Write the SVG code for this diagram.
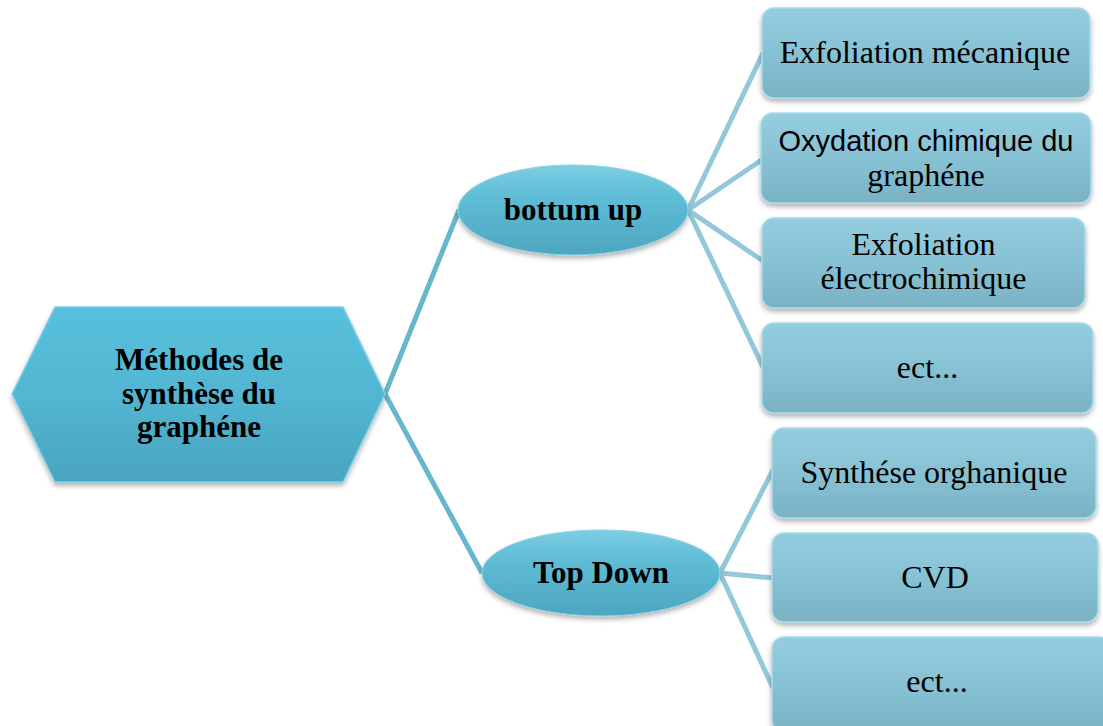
<svg xmlns="http://www.w3.org/2000/svg" width="1103" height="726" viewBox="0 0 1103 726">
<defs>
<linearGradient id="gHex" x1="0" y1="0" x2="0" y2="1">
<stop offset="0" stop-color="#58c0dc"/>
<stop offset="0.5" stop-color="#52b6d2"/>
<stop offset="1" stop-color="#4aa4bf"/>
</linearGradient>
<linearGradient id="gEll" x1="0" y1="0" x2="0" y2="1">
<stop offset="0" stop-color="#7ccde2"/>
<stop offset="0.35" stop-color="#5fbdd6"/>
<stop offset="1" stop-color="#4ea5bf"/>
</linearGradient>
<linearGradient id="gBox" x1="0" y1="0" x2="0" y2="1">
<stop offset="0" stop-color="#94cddf"/>
<stop offset="0.5" stop-color="#87c2d4"/>
<stop offset="1" stop-color="#7ab2c4"/>
</linearGradient>
<filter id="sh" x="-10%" y="-10%" width="120%" height="130%">
<feDropShadow dx="0" dy="3" stdDeviation="2.5" flood-color="#000" flood-opacity="0.3"/>
</filter>
</defs>
<style>
.box{fill:url(#gBox);stroke:#a9dbe9;stroke-width:1.5;filter:url(#sh)}
.ell{fill:url(#gEll);stroke:#8ed3e6;stroke-width:1;filter:url(#sh)}
.hex{fill:url(#gHex);stroke:#7fd0e6;stroke-width:1.5;filter:url(#sh)}
.t{font-family:"Liberation Serif","Times New Roman",serif;font-size:32px;fill:#000;text-anchor:middle}
.ts{font-family:"Liberation Sans",Arial,sans-serif;font-size:29px;fill:#000;text-anchor:middle}
.b{font-weight:bold;font-size:31px}
.c1{stroke:#66b6cd;stroke-width:5;fill:none}
.c2{stroke:#92c8d9;stroke-width:5;fill:none}
</style>
<rect width="1103" height="726" fill="#fff"/>
<g id="connectors">
<line class="c1" x1="385" y1="394" x2="459" y2="210"/>
<line class="c1" x1="385" y1="394" x2="482" y2="573"/>
<line class="c2" x1="688" y1="210" x2="763" y2="53"/>
<line class="c2" x1="688" y1="210" x2="763" y2="159"/>
<line class="c2" x1="688" y1="210" x2="763" y2="261"/>
<line class="c2" x1="688" y1="210" x2="763" y2="367"/>
<line class="c2" x1="720" y1="573" x2="773" y2="470"/>
<line class="c2" x1="720" y1="573" x2="773" y2="578"/>
<line class="c2" x1="720" y1="573" x2="773" y2="688"/>
</g>
<g id="root">
<polygon class="hex" points="12,394 55,307 343,307 385,394 343,482 55,482"/>
<text class="t b" x="199" y="370">Méthodes de</text>
<text class="t b" x="199" y="404">synthèse du</text>
<text class="t b" x="199" y="437">graphéne</text>
</g>
<g id="bottomup">
<ellipse class="ell" cx="573" cy="210" rx="115" ry="45"/>
<text class="t b" x="573" y="220">bottum up</text>
</g>
<g id="topdown">
<ellipse class="ell" cx="601" cy="573" rx="119" ry="43"/>
<text class="t b" x="601" y="583">Top Down</text>
</g>
<g id="b1">
<rect class="box" x="762" y="8" width="328" height="90" rx="12"/>
<text class="t" x="925" y="63">Exfoliation mécanique</text>
</g>
<g id="b2">
<rect class="box" x="761" y="113" width="330" height="90" rx="12"/>
<text class="ts" x="926" y="151">Oxydation chimique du</text>
<text class="t" x="926" y="186">graphéne</text>
</g>
<g id="b3">
<rect class="box" x="762" y="218" width="323" height="90" rx="12"/>
<text class="t" x="923.5" y="255">Exfoliation</text>
<text class="t" x="923.5" y="289">électrochimique</text>
</g>
<g id="b4">
<rect class="box" x="762" y="323" width="331" height="90" rx="12"/>
<text class="t" x="927.5" y="378">ect...</text>
</g>
<g id="b5">
<rect class="box" x="772" y="428" width="324" height="90" rx="12"/>
<text class="t" x="934" y="483">Synthése orghanique</text>
</g>
<g id="b6">
<rect class="box" x="772" y="533" width="326" height="89" rx="12"/>
<text class="t" x="935" y="588">CVD</text>
</g>
<g id="b7">
<rect class="box" x="772" y="637" width="340" height="95" rx="12"/>
<text class="t" x="937" y="692">ect...</text>
</g>
</svg>
